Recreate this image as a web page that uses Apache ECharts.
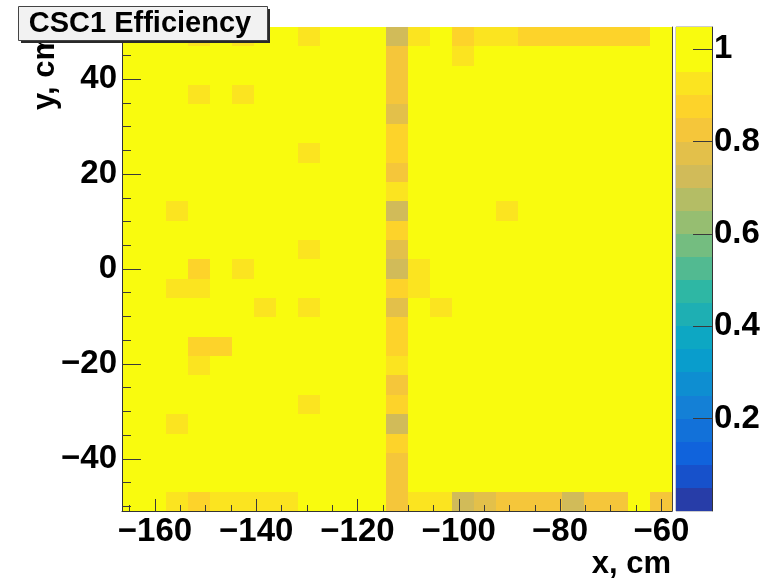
<!DOCTYPE html>
<html>
<head>
<meta charset="utf-8">
<script src="https://cdn.jsdelivr.net/npm/echarts@6/dist/echarts.min.js"></script>
<style>
html, body { margin: 0; padding: 0; background: #fff; }
#chart { width: 769px; height: 578px; }
</style>
</head>
<body>
<div id="chart"></div>
<script>
// binning of the 2D histogram, cm
const xMin = -166.5, xMax = -57.9, nBinsX = 25
const yMin = -51, yMax = 51, nBinsY = 25

// efficiency per cell: rows from top (y = +51) down, columns from left (x = -166.5)
const effRows = [
    [1, 1, 1, .93, 1, .93, 1, 1, .93, 1, 1, 1, .73, .93, 1, .88, .93, .93, .88, .88, .88, .88, .88, .88, 1],
    [1, 1, 1, 1, 1, 1, 1, 1, 1, 1, 1, 1, .83, 1, 1, .93, 1, 1, 1, 1, 1, 1, 1, 1, 1],
    [1, 1, 1, 1, 1, 1, 1, 1, 1, 1, 1, 1, .83, 1, 1, 1, 1, 1, 1, 1, 1, 1, 1, 1, 1],
    [1, 1, 1, .93, 1, .93, 1, 1, 1, 1, 1, 1, .83, 1, 1, 1, 1, 1, 1, 1, 1, 1, 1, 1, 1],
    [1, 1, 1, 1, 1, 1, 1, 1, 1, 1, 1, 1, .78, 1, 1, 1, 1, 1, 1, 1, 1, 1, 1, 1, 1],
    [1, 1, 1, 1, 1, 1, 1, 1, 1, 1, 1, 1, .88, 1, 1, 1, 1, 1, 1, 1, 1, 1, 1, 1, 1],
    [1, 1, 1, 1, 1, 1, 1, 1, .93, 1, 1, 1, .88, 1, 1, 1, 1, 1, 1, 1, 1, 1, 1, 1, 1],
    [1, 1, 1, 1, 1, 1, 1, 1, 1, 1, 1, 1, .83, 1, 1, 1, 1, 1, 1, 1, 1, 1, 1, 1, 1],
    [1, 1, 1, 1, 1, 1, 1, 1, 1, 1, 1, 1, .93, 1, 1, 1, 1, 1, 1, 1, 1, 1, 1, 1, 1],
    [1, 1, .93, 1, 1, 1, 1, 1, 1, 1, 1, 1, .73, 1, 1, 1, 1, .93, 1, 1, 1, 1, 1, 1, 1],
    [1, 1, 1, 1, 1, 1, 1, 1, 1, 1, 1, 1, .88, 1, 1, 1, 1, 1, 1, 1, 1, 1, 1, 1, 1],
    [1, 1, 1, 1, 1, 1, 1, 1, .93, 1, 1, 1, .78, 1, 1, 1, 1, 1, 1, 1, 1, 1, 1, 1, 1],
    [1, 1, 1, .88, 1, .93, 1, 1, 1, 1, 1, 1, .73, .93, 1, 1, 1, 1, 1, 1, 1, 1, 1, 1, 1],
    [1, 1, .93, .93, 1, 1, 1, 1, 1, 1, 1, 1, .88, .93, 1, 1, 1, 1, 1, 1, 1, 1, 1, 1, 1],
    [1, 1, 1, 1, 1, 1, .93, 1, .93, 1, 1, 1, .76, 1, .93, 1, 1, 1, 1, 1, 1, 1, 1, 1, 1],
    [1, 1, 1, 1, 1, 1, 1, 1, 1, 1, 1, 1, .88, 1, 1, 1, 1, 1, 1, 1, 1, 1, 1, 1, 1],
    [1, 1, 1, .88, .88, 1, 1, 1, 1, 1, 1, 1, .88, 1, 1, 1, 1, 1, 1, 1, 1, 1, 1, 1, 1],
    [1, 1, 1, .93, 1, 1, 1, 1, 1, 1, 1, 1, .93, 1, 1, 1, 1, 1, 1, 1, 1, 1, 1, 1, 1],
    [1, 1, 1, 1, 1, 1, 1, 1, 1, 1, 1, 1, .83, 1, 1, 1, 1, 1, 1, 1, 1, 1, 1, 1, 1],
    [1, 1, 1, 1, 1, 1, 1, 1, .93, 1, 1, 1, .88, 1, 1, 1, 1, 1, 1, 1, 1, 1, 1, 1, 1],
    [1, 1, .93, 1, 1, 1, 1, 1, 1, 1, 1, 1, .73, 1, 1, 1, 1, 1, 1, 1, 1, 1, 1, 1, 1],
    [1, 1, 1, 1, 1, 1, 1, 1, 1, 1, 1, 1, .88, 1, 1, 1, 1, 1, 1, 1, 1, 1, 1, 1, 1],
    [1, 1, 1, 1, 1, 1, 1, 1, 1, 1, 1, 1, .83, 1, 1, 1, 1, 1, 1, 1, 1, 1, 1, 1, 1],
    [1, 1, 1, 1, 1, 1, 1, 1, 1, 1, 1, 1, .83, 1, 1, 1, 1, 1, 1, 1, 1, 1, 1, 1, 1],
    [1, 1, .93, .88, .93, .93, .93, .93, 1, 1, 1, 1, .83, .93, .93, .73, .78, .83, .83, .83, .73, .83, .83, 1, .83]
]

// axis ticks
const xMajorTicks = [-160, -140, -120, -100, -80, -60]
const xMinorTicks = [-165, -155, -150, -145, -135, -130, -125, -115, -110, -105, -95, -90, -85, -75, -70, -65]
const yMajorTicks = [-40, -20, 0, 20, 40]
const yMinorTicks = [-50, -45, -35, -30, -25, -15, -10, -5, 5, 10, 15, 25, 30, 35, 45, 50]

// colour scale: lower edge of each contour level, top of scale, labels
const zLevels = [0, 0.05, 0.1, 0.15, 0.2, 0.25, 0.3, 0.35, 0.4, 0.45, 0.5, 0.55, 0.6, 0.65, 0.7, 0.75, 0.8, 0.85, 0.9, 0.95]
const zTop = 1.048
const zTicks = [0.2, 0.4, 0.6, 0.8, 1]

// ROOT kBird palette, one colour per level
const birdColors = [
    '#273da8', '#1751cb', '#1063dc', '#1271d9', '#1480d6',
    '#0e8ed1', '#099dcc', '#0da7c3', '#1eafb3', '#2eb7a4',
    '#52ba91', '#74bd80', '#96be71', '#b4bd65', '#d1bb59',
    '#e3c04a', '#f5c63a', '#fdd32a', '#fbe420', '#f9fb0e'
]

const dx = (xMax - xMin) / nBinsX
const dy = (yMax - yMin) / nBinsY

const levelColor = (v) => {
    let idx = 0
    for (let i = 0; i < zLevels.length; i++) {
        if (v >= zLevels[i] - 1e-9) idx = i
    }
    return birdColors[idx]
}

const cells = []
for (let r = 0; r < effRows.length; r++) {
    for (let c = 0; c < effRows[r].length; c++) {
        cells.push([xMin + (c + 0.5) * dx, yMax - (r + 0.5) * dy, effRows[r][c]])
    }
}

const bands = zLevels.map((lo, i) => [0, lo, i < zLevels.length - 1 ? zLevels[i + 1] : zTop, i])

const font = { fontFamily: 'Liberation Sans', fontWeight: 'bold', fontSize: 33, color: '#000' }
const minus = (v) => String(v).replace('-', '\u2212')
const tickColor = '#3a3a3a'

const chart = echarts.init(document.getElementById('chart'))
chart.setOption({
    animation: false,
    grid: [
        { left: 122, right: 97, top: 27, bottom: 67 },
        { left: 676, width: 36, top: 27, bottom: 67, show: true, borderColor: '#999', borderWidth: 1 }
    ],
    xAxis: [
        {
            type: 'value', gridIndex: 0, min: xMin, max: xMax, position: 'bottom', z: 10,
            axisLine: { show: true, onZero: false, lineStyle: { color: '#333' } },
            axisTick: { show: true, inside: true, length: 12, customValues: xMajorTicks, lineStyle: { color: tickColor } },
            axisLabel: Object.assign({ customValues: xMajorTicks, formatter: minus, margin: 4 }, font),
            splitLine: { show: false }
        },
        {
            type: 'value', gridIndex: 0, min: xMin, max: xMax, position: 'bottom', z: 10,
            axisLine: { show: false, onZero: false },
            axisTick: { show: true, inside: true, length: 6, customValues: xMinorTicks, lineStyle: { color: tickColor } },
            axisLabel: { show: false },
            splitLine: { show: false }
        },
        { type: 'value', gridIndex: 1, min: 0, max: 1, show: false }
    ],
    yAxis: [
        {
            type: 'value', gridIndex: 0, min: yMin, max: yMax, position: 'left', z: 10,
            axisLine: { show: true, onZero: false, lineStyle: { color: '#333' } },
            axisTick: { show: true, inside: true, length: 19, customValues: yMajorTicks, lineStyle: { color: tickColor } },
            axisLabel: Object.assign({ customValues: yMajorTicks, formatter: minus, margin: 5 }, font),
            splitLine: { show: false }
        },
        {
            type: 'value', gridIndex: 0, min: yMin, max: yMax, position: 'left', z: 10,
            axisLine: { show: false, onZero: false },
            axisTick: { show: true, inside: true, length: 9, customValues: yMinorTicks, lineStyle: { color: tickColor } },
            axisLabel: { show: false },
            splitLine: { show: false }
        },
        {
            type: 'value', gridIndex: 0, min: yMin, max: yMax, position: 'right', z: 10,
            axisLine: { show: true, onZero: false, lineStyle: { color: '#444' } },
            axisTick: { show: false }, axisLabel: { show: false }, splitLine: { show: false }
        },
        {
            type: 'value', gridIndex: 1, min: 0, max: zTop, position: 'right', z: 10,
            axisLine: { show: true, onZero: false, lineStyle: { color: '#333' } },
            axisTick: { show: true, inside: true, length: 19, customValues: zTicks, lineStyle: { color: tickColor } },
            axisLabel: Object.assign({ customValues: zTicks, margin: 2 }, font),
            splitLine: { show: false }
        }
    ],
    series: [
        {
            type: 'custom',
            xAxisIndex: 0,
            yAxisIndex: 0,
            clip: true,
            data: cells,
            renderItem: (params, api) => {
                const x = api.value(0), y = api.value(1)
                const p0 = api.coord([x - dx / 2, y + dy / 2])
                const p1 = api.coord([x + dx / 2, y - dy / 2])
                const x0 = Math.round(p0[0]), y0 = Math.round(p0[1])
                return {
                    type: 'rect',
                    shape: { x: x0, y: y0, width: Math.round(p1[0]) - x0, height: Math.round(p1[1]) - y0 },
                    style: { fill: levelColor(api.value(2)) }
                }
            }
        },
        {
            type: 'custom',
            xAxisIndex: 2,
            yAxisIndex: 3,
            data: bands,
            renderItem: (params, api) => {
                const pTop = api.coord([0, api.value(2)])
                const pBot = api.coord([1, api.value(1)])
                const y0 = Math.round(pTop[1])
                return {
                    type: 'rect',
                    shape: { x: pTop[0], y: y0, width: pBot[0] - pTop[0], height: Math.round(pBot[1]) - y0 },
                    style: { fill: birdColors[api.value(3)] }
                }
            }
        }
    ],
    graphic: [
        {
            type: 'text', z: 50, x: 45, y: 110, rotation: Math.PI / 2,
            style: { text: 'y, cm', fontFamily: 'Liberation Sans', fontWeight: 'bold', fontSize: 31, fill: '#000', align: 'left', verticalAlign: 'middle' }
        },
        {
            type: 'text', z: 50, x: 671, y: 564,
            style: { text: 'x, cm', fontFamily: 'Liberation Sans', fontWeight: 'bold', fontSize: 31, fill: '#000', align: 'right', verticalAlign: 'middle' }
        },
        { type: 'rect', z: 60, shape: { x: 21, y: 9, width: 249, height: 34 }, style: { fill: '#2a2a2a' } },
        { type: 'rect', z: 61, shape: { x: 18.5, y: 6.5, width: 249, height: 34 }, style: { fill: '#f2f2f2', stroke: '#444', lineWidth: 1 } },
        {
            type: 'text', z: 62, x: 140, y: 23.5,
            style: { text: 'CSC1 Efficiency', fontFamily: 'Liberation Sans', fontWeight: 'bold', fontSize: 29, fill: '#000', align: 'center', verticalAlign: 'middle' }
        }
    ]
})
</script>
</body>
</html>
